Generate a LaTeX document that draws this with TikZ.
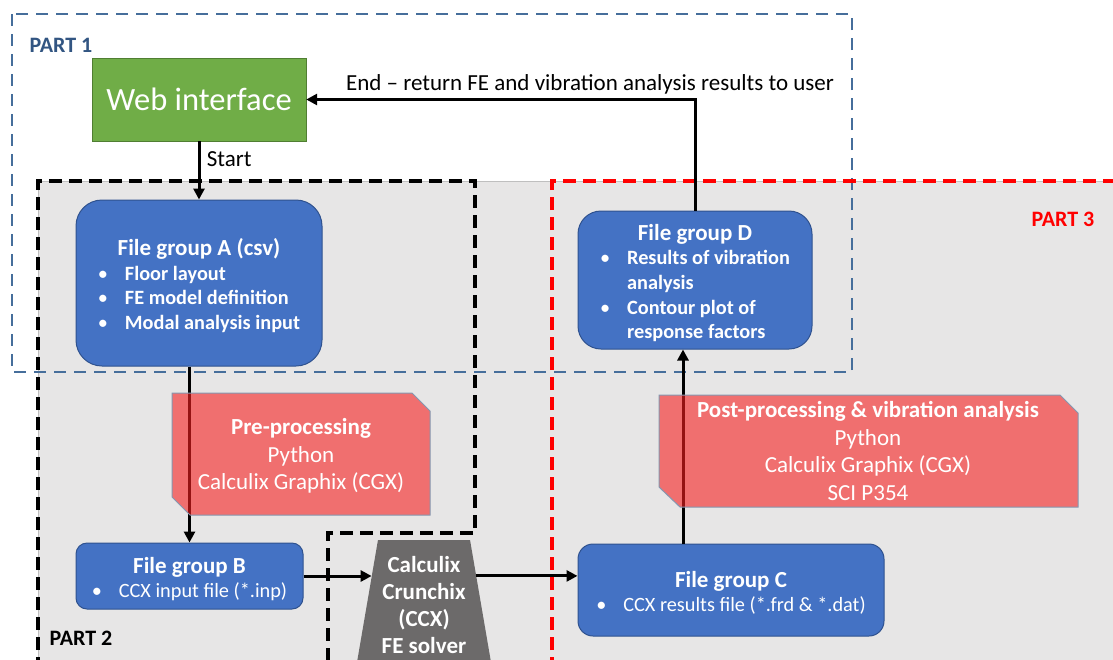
\documentclass[tikz,border=0pt]{standalone}
\usepackage{fontspec}
\setmainfont{Carlito}
\usepackage{tikz}
\usetikzlibrary{arrows.meta,calc,shapes.geometric}
\definecolor{webgreen}{RGB}{112,173,71}
\definecolor{webedge}{RGB}{80,126,50}
\definecolor{fileblue}{RGB}{68,114,196}
\definecolor{fileedge}{RGB}{47,82,143}
\definecolor{toolred}{RGB}{247,33,33}
\definecolor{tooledge}{RGB}{132,151,176}
\definecolor{solvergray}{RGB}{108,106,106}
\definecolor{bggray}{RGB}{231,230,230}
\definecolor{partblue}{RGB}{70,110,155}
\definecolor{parttext}{RGB}{50,85,130}
\newcommand{\grptitle}[1]{\multicolumn{2}{c}{\rule{0pt}{26.5pt}\fontsize{23}{24.7}\selectfont\bfseries #1}}
\newcommand{\bul}{\makebox[27pt][l]{\textbullet}}

\begin{document}
\begin{tikzpicture}[
  x=1pt,y=-1pt,
  web/.style={draw=webedge,fill=webgreen,text=white,minimum width=214pt,minimum height=83pt,font=\fontsize{32.5}{39}\selectfont},
  filebox/.style={draw=fileedge,fill=fileblue,line width=1pt,text=white,inner sep=0pt,font=\fontsize{20.3}{24.7}\selectfont},
  toolshape/.style={draw=tooledge,line width=1pt,fill=toolred,fill opacity=0.6},
  tooltext/.style={text=white,align=center,inner sep=0pt,font=\fontsize{23}{27.5}\selectfont},
  solver/.style={trapezium,trapezium angle=78,trapezium stretches=true,fill=solvergray,text=white,align=center,inner sep=0pt,minimum width=136.9pt,minimum height=130pt,font=\bfseries\fontsize{23}{26.7}\selectfont},
  arr/.style={-{Triangle[length=11pt,width=11pt]},line width=3pt},
  part1/.style={draw=partblue,line width=2.8pt,dash pattern=on 12pt off 8pt},
  part2/.style={draw=black,line width=3.2pt,dash pattern=on 13pt off 7pt},
  part3/.style={draw=red,line width=3.2pt,dash pattern=on 13pt off 7pt},
  partlabel/.style={anchor=west,font=\bfseries\fontsize{22}{26}\selectfont}
]
\clip (0,0) rectangle (1113,659);
\fill[white] (0,0) rectangle (1113,659);
% grey area and the three parts
\draw[fill=bggray,draw=black!25] (38,181) rectangle (1120,670);
\draw[part1] (12,14) rectangle (852,372);
\draw[part2] (38,670) -- (38,181) -- (475,181) -- (475,533) -- (328,533) -- (328,670);
\draw[part3] (552,670) -- (552,181) -- (1120,181);
\node[partlabel,text=parttext] (p1) at (26,45) {PART 1};
\node[partlabel] (p2) at (46,638) {PART 2};
\node[partlabel,text=red] (p3) at (1028,219) {PART 3};

% boxes
\node[web] (web) at (199,99.5) {Web interface};
\node[filebox,minimum width=246pt,minimum height=166pt,rounded corners=26pt] (grpA) at (199,283)
  {\begin{tabular}{@{}l@{}l@{}}\grptitle{File group A (csv)}\\
   \bul&\bfseries Floor layout\\ \bul&\bfseries FE model definition\\ \bul&\bfseries Modal analysis input\end{tabular}};
\node[filebox,minimum width=227pt,minimum height=66pt,rounded corners=11pt] (grpB) at (189.5,576)
  {\begin{tabular}{@{}l@{}l@{}}\grptitle{File group B}\\ \bul&CCX input file (*.inp)\end{tabular}};
\node[filebox,minimum width=306pt,minimum height=92pt,rounded corners=15pt] (grpC) at (731,590)
  {\begin{tabular}{@{}l@{}l@{}}\grptitle{File group C}\\ \bul&CCX results file (*.frd \& *.dat)\end{tabular}};
\node[filebox,minimum width=234pt,minimum height=138pt,rounded corners=23pt] (grpD) at (695,280)
  {\begin{tabular}{@{}l@{}l@{}}\grptitle{File group D}\\
   \bul&\bfseries Results of vibration\\ &\bfseries analysis\\ \bul&\bfseries Contour plot of\\ &\bfseries response factors\end{tabular}};
\node[solver] (ccx) at (424,605) {Calculix\\Crunchix\\(CCX)\\FE solver};
\coordinate (ccxin) at ($(ccx.top left corner)!0.277!(ccx.bottom left corner)$);
\coordinate (ccxout) at ($(ccx.top right corner)!0.277!(ccx.bottom right corner)$);
\coordinate (postin) at ([xshift=-48pt]grpC.north);

% flow
\draw[arr] (web.south) -- node[right,xshift=3pt,pos=0.3,font=\fontsize{23}{27}\selectfont] {Start} (grpA.north);
\draw[arr] (grpA.south -| grpB.north) -- (grpB.north);
\draw[arr] (grpB.east) -- (grpB.east -| ccxin);
\draw[arr] (ccxout) -- (ccxout -| grpC.west);
\draw[arr] (postin) -- (postin |- grpD.south);
\draw[arr] (grpD.north) |- node[pos=0.635,above,font=\fontsize{23}{27}\selectfont] {End -- return FE and vibration analysis results to user} (web.east);

% programs used in each step
\path[toolshape] (172,393) -- ++(240,0) -- ++(18,18) -- ++(0,104) -- ++(-240,0) -- ++(-18,-18) -- cycle;
\node[tooltext] (pre) at (301,456) {\bfseries Pre-processing\\Python\\Calculix Graphix (CGX)};
\path[toolshape] (659,395) -- ++(401,0) -- ++(18,18) -- ++(0,94) -- ++(-398,0) -- ++(-21,-20) -- cycle;
\node[tooltext] (post) at (868,451) {\bfseries Post-processing \& vibration analysis\\Python\\Calculix Graphix (CGX)\\SCI P354};
\end{tikzpicture}
\end{document}
